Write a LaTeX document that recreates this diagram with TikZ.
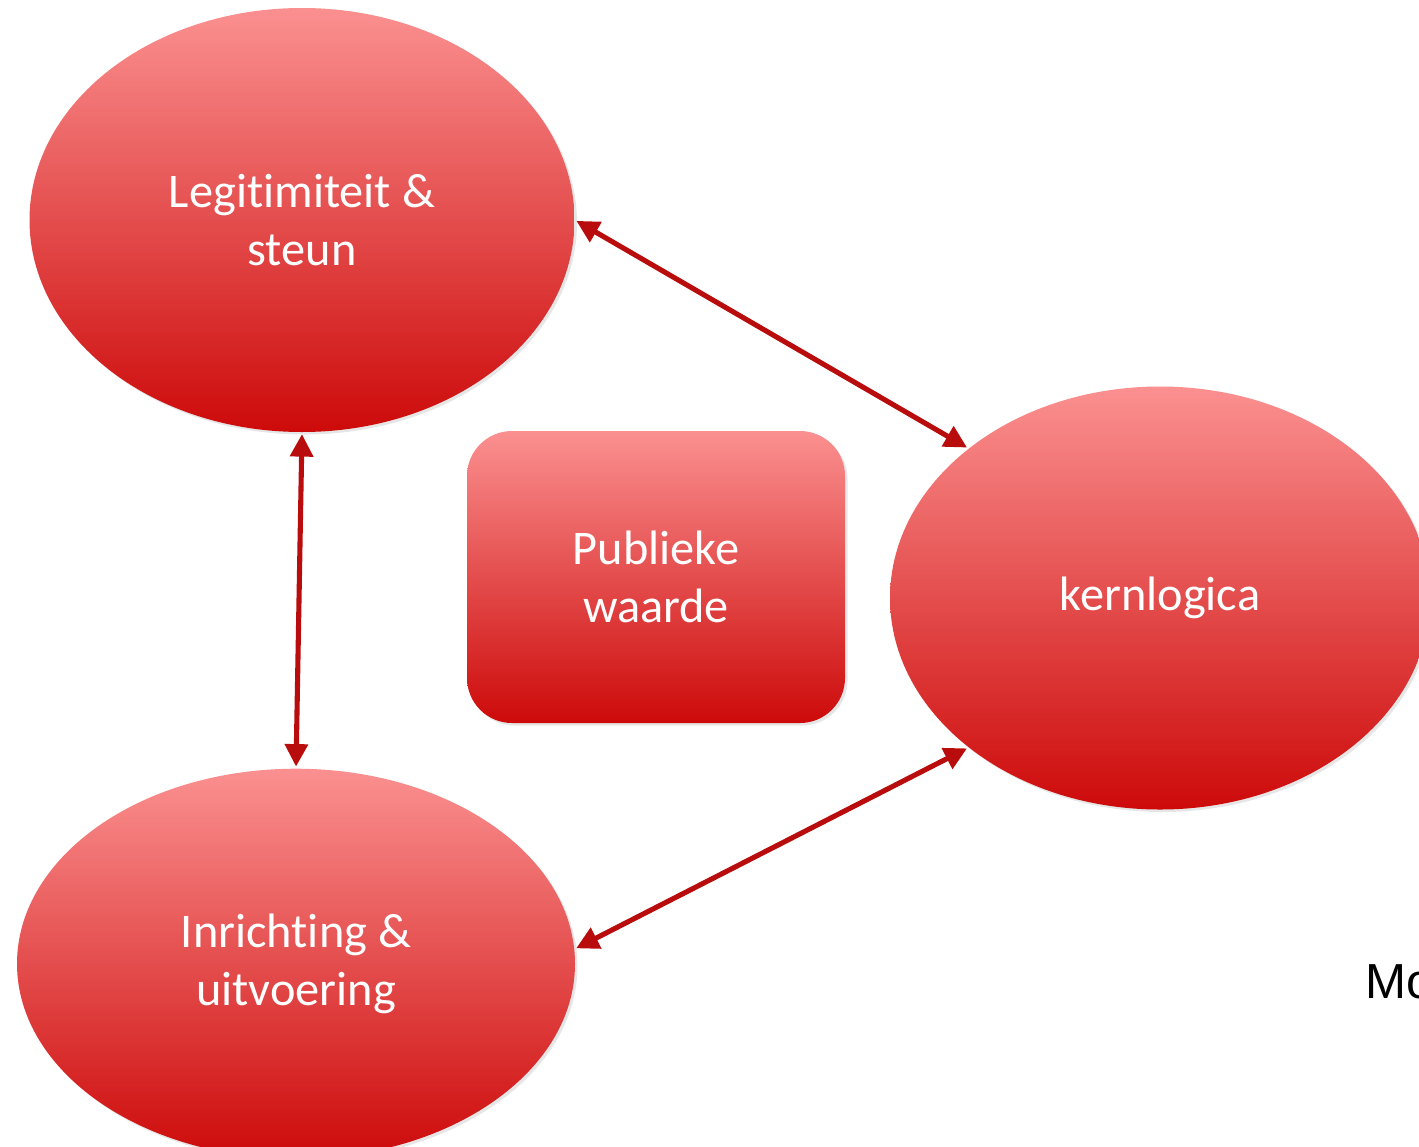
\documentclass[tikz,border=0pt]{standalone}
\usepackage{fontspec}
\setmainfont{Carlito}[Ligatures=NoCommon]
\newfontfamily\mofont{Liberation Sans}
\usetikzlibrary{positioning,shapes.geometric,shadows,arrows.meta}
\definecolor{pinktop}{RGB}{251,144,144}
\definecolor{redbot}{RGB}{205,10,10}
\definecolor{arrowred}{RGB}{185,12,12}
\tikzset{
  bubble/.style={ellipse,inner sep=0pt,top color=pinktop,bottom color=redbot,
    text=white,align=center,font=\fontsize{27.5}{33}\selectfont,
    drop shadow={opacity=0.2,shadow xshift=0.05cm,shadow yshift=-0.05cm}},
  valuebox/.style={rectangle,rounded corners=0.9cm,inner sep=0pt,
    top color=pinktop,bottom color=redbot,text=white,align=center,
    minimum width=7.56cm,minimum height=5.84cm,font=\fontsize{27.5}{33}\selectfont,
    drop shadow={opacity=0.2,shadow xshift=0.05cm,shadow yshift=-0.05cm}},
  link/.style={{Triangle[length=0.45cm,width=0.45cm]}-{Triangle[length=0.45cm,width=0.45cm]},
    draw=arrowred,line width=2.9pt,shorten <=1pt,shorten >=1pt}
}
\begin{document}
\begin{tikzpicture}
\useasboundingbox (0,0) rectangle (28.38,-22.92);
\node[bubble,minimum width=10.9cm,minimum height=8.48cm](legit) at (6.04,-4.4){Legitimiteit \&\\steun};
\node[bubble,minimum width=11.16cm,minimum height=7.8cm,below=6.72cm of legit,xshift=-0.12cm](inricht){Inrichting \&\\uitvoering};
\node[bubble,minimum width=10.8cm,minimum height=8.46cm](kern) at (23.2,-11.96){kernlogica};
\node[valuebox](waarde) at (13.12,-11.54){Publieke\\waarde};
\node[anchor=base west,inner sep=0pt,font=\mofont\fontsize{28}{32}\selectfont](mo) at (27.3,-19.96){Mo};
\path[link] (legit.east) -- (kern.142);
\path[link] (legit.south) -- (inricht.north);
\path[link] (inricht.3) -- (kern.218);
\end{tikzpicture}
\end{document}
